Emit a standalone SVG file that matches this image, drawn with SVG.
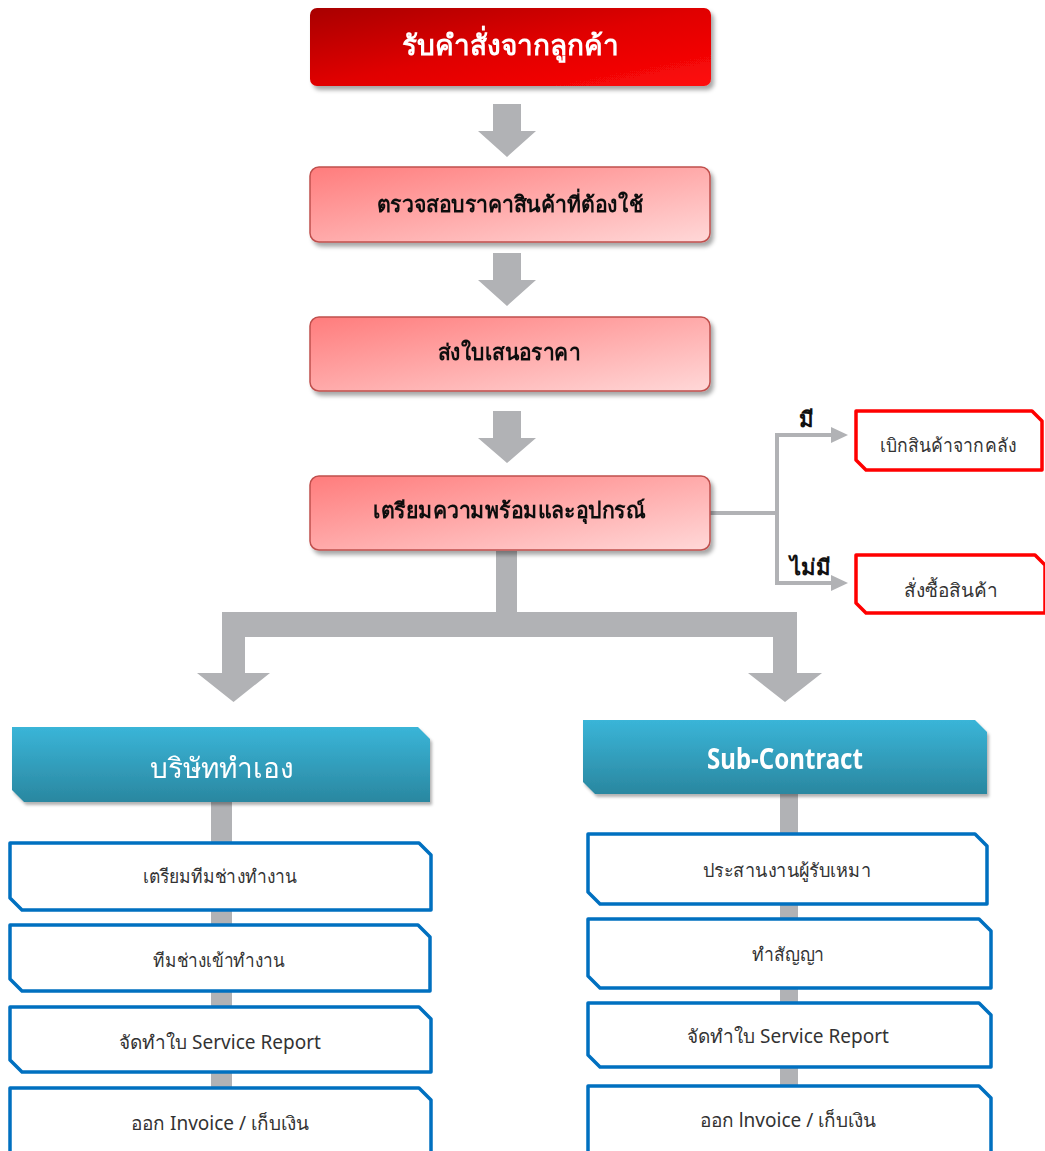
<svg xmlns="http://www.w3.org/2000/svg" width="1045" height="1151" viewBox="0 0 1045 1151">
<defs>
<linearGradient id="gRed" x1="0" y1="0" x2="1" y2="1">
<stop offset="0" stop-color="#a80000"/><stop offset="0.5" stop-color="#e00000"/><stop offset="1" stop-color="#ff0a0a"/>
</linearGradient>
<linearGradient id="gPink" x1="0" y1="0" x2="1" y2="1">
<stop offset="0" stop-color="#ff7c7c"/><stop offset="1" stop-color="#ffd8d8"/>
</linearGradient>
<linearGradient id="gBlue" x1="0" y1="0" x2="0" y2="1">
<stop offset="0" stop-color="#3ab5d8"/><stop offset="1" stop-color="#2a87a0"/>
</linearGradient>
<filter id="sh" x="-5%" y="-10%" width="112%" height="130%">
<feDropShadow dx="3" dy="4" stdDeviation="2" flood-color="#000" flood-opacity="0.35"/>
</filter>
<filter id="shs" x="-5%" y="-10%" width="112%" height="130%">
<feDropShadow dx="2" dy="3" stdDeviation="1.5" flood-color="#000" flood-opacity="0.3"/>
</filter>
</defs>
<style>
text{font-family:"Noto Sans","DejaVu Sans",sans-serif;text-anchor:middle}
.gray{fill:#b1b2b5}
.gl{stroke:#b1b2b5;stroke-width:4;fill:none}
.pink{fill:url(#gPink);stroke:#c0504d;stroke-width:1.5}
.th{font-size:22px;font-weight:bold;fill:#111}
.wbox{fill:#fff;stroke:#0070c0;stroke-width:3.5;stroke-linejoin:round}
.rbox{fill:#fff;stroke:#ff0000;stroke-width:3.5;stroke-linejoin:round}
.wt{font-size:19px;fill:#333}
.hd{font-size:28px;fill:#fff}
.lb{font-size:22px;font-weight:bold;fill:#111}
</style>

<g id="connectors">
<polygon class="gray" points="493,104 521,104 521,131 536,131 507,157 478,131 493,131"/>
<polygon class="gray" points="493,253 521,253 521,280 536,280 507,306 478,280 493,280"/>
<polygon class="gray" points="493,411 521,411 521,438 536,438 507,463 478,438 493,438"/>
<polygon class="gray" points="496,551 517,551 517,612 797,612 797,673 822,673 785,702 748,673 773,673 773,637 245,637 245,673 270,673 233.5,702 197,673 222,673 222,612 496,612"/>
<polyline class="gl" points="710,513 777,513"/>
<polyline class="gl" points="834,435 777,435 777,583 834,583"/>
<polygon class="gray" points="831,427 848,435 831,443"/>
<polygon class="gray" points="831,575 848,583 831,591"/>
<rect class="gray" x="211" y="800" width="21" height="290"/>
<rect class="gray" x="780" y="792" width="18" height="296"/>
</g>

<g id="n1" filter="url(#sh)">
<rect x="310" y="8" width="401" height="78" rx="7" fill="url(#gRed)"/>
<text x="510" y="55" font-size="28" fill="#fff" font-weight="bold">รับคำสั่งจากลูกค้า</text>
</g>
<g id="n2" filter="url(#sh)">
<rect class="pink" x="310" y="167" width="400" height="75" rx="9"/>
<text class="th" x="510" y="212" textLength="266" lengthAdjust="spacingAndGlyphs">ตรวจสอบราคาสินค้าที่ต้องใช้</text>
</g>
<g id="n3" filter="url(#sh)">
<rect class="pink" x="310" y="317" width="400" height="74" rx="9"/>
<text class="th" x="509" y="360" textLength="142" lengthAdjust="spacingAndGlyphs">ส่งใบเสนอราคา</text>
</g>
<g id="n4" filter="url(#sh)">
<rect class="pink" x="310" y="476" width="400" height="74" rx="9"/>
<text class="th" x="509" y="518" textLength="272" lengthAdjust="spacingAndGlyphs">เตรียมความพร้อมและอุปกรณ์</text>
</g>

<g id="lbl-yes"><text class="lb" x="806" y="427">มี</text></g>
<g id="lbl-no"><text class="lb" x="810" y="575">ไม่มี</text></g>

<g id="n5">
<polygon class="rbox" points="856,411 1032,411 1042,421 1042,470 866,470 856,460"/>
<text class="wt" x="948" y="452" textLength="136" lengthAdjust="spacingAndGlyphs">เบิกสินค้าจากคลัง</text>
</g>
<g id="n6">
<polygon class="rbox" points="856,555 1035,555 1045,565 1045,613 866,613 856,603"/>
<text class="wt" x="951" y="597">สั่งซื้อสินค้า</text>
</g>

<g id="h1" filter="url(#shs)">
<polygon points="12,727 418,727 430,739 430,802 24,802 12,790" fill="url(#gBlue)"/>
<text class="hd" x="222" y="778">บริษัททำเอง</text>
</g>
<g id="h2" filter="url(#shs)">
<polygon points="583,720 975,720 987,732 987,794 595,794 583,782" fill="url(#gBlue)"/>
<text class="hd" x="785" y="769" font-weight="bold" font-size="26" textLength="156" lengthAdjust="spacingAndGlyphs">Sub-Contract</text>
</g>

<g id="l1"><polygon class="wbox" points="10,843 419,843 431,855 431,910 22,910 10,898"/><text class="wt" x="220" y="883" textLength="154" lengthAdjust="spacingAndGlyphs">เตรียมทีมช่างทำงาน</text></g>
<g id="l2"><polygon class="wbox" points="10,925 418,925 430,937 430,991 22,991 10,979"/><text class="wt" x="219" y="967" textLength="132" lengthAdjust="spacingAndGlyphs">ทีมช่างเข้าทำงาน</text></g>
<g id="l3"><polygon class="wbox" points="10,1007 419,1007 431,1019 431,1072 22,1072 10,1060"/><text class="wt" x="220" y="1049">จัดทำใบ Service Report</text></g>
<g id="l4"><polygon class="wbox" points="10,1088 419,1088 431,1100 431,1170 22,1170 10,1158"/><text class="wt" x="220" y="1130">ออก Invoice / เก็บเงิน</text></g>

<g id="r1"><polygon class="wbox" points="588,834 975,834 987,846 987,904 600,904 588,892"/><text class="wt" x="787" y="877" textLength="168" lengthAdjust="spacingAndGlyphs">ประสานงานผู้รับเหมา</text></g>
<g id="r2"><polygon class="wbox" points="588,919 979,919 991,931 991,988 600,988 588,976"/><text class="wt" x="788" y="961" textLength="73" lengthAdjust="spacingAndGlyphs">ทำสัญญา</text></g>
<g id="r3"><polygon class="wbox" points="588,1003 979,1003 991,1015 991,1067 600,1067 588,1055"/><text class="wt" x="788" y="1043">จัดทำใบ Service Report</text></g>
<g id="r4"><polygon class="wbox" points="588,1086 979,1086 991,1098 991,1170 600,1170 588,1158"/><text class="wt" x="788" y="1127">ออก lnvoice / เก็บเงิน</text></g>
</svg>
